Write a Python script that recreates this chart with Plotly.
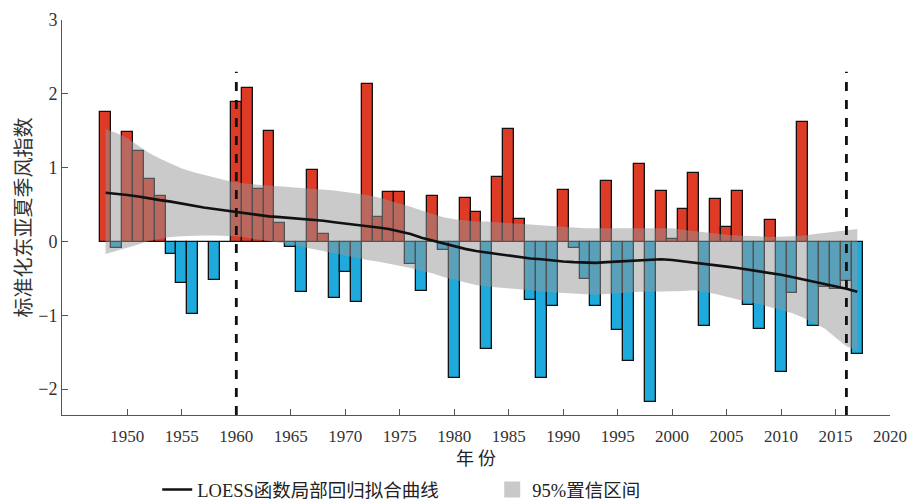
import plotly.graph_objects as go

years = list(range(1948, 2018))
index_values = [
    1.76, -0.09, 1.48, 1.22, 0.85, 0.62, -0.17, -0.56, -0.98, 0.00,
    -0.52, 0.00, 1.89, 2.08, 0.71, 1.49, 0.25, -0.08, -0.69, 0.97,
    0.10, -0.77, -0.41, -0.82, 2.13, 0.33, 0.67, 0.67, -0.31, -0.67,
    0.61, -0.11, -1.85, 0.59, 0.40, -1.46, 0.87, 1.52, 0.30, -0.79,
    -1.85, -0.88, 0.70, -0.09, -0.51, -0.88, 0.82, -1.20, -1.62, 1.05,
    -2.17, 0.68, 0.03, 0.44, 0.93, -1.14, 0.58, 0.19, 0.68, -0.86,
    -1.19, 0.29, -1.77, -0.70, 1.62, -1.14, -0.62, -0.65, -0.54, -1.52,
]
loess_values = [
    0.66, 0.65, 0.63, 0.61, 0.59, 0.56, 0.54, 0.51, 0.49, 0.46,
    0.44, 0.42, 0.40, 0.38, 0.36, 0.34, 0.33, 0.32, 0.31, 0.29,
    0.28, 0.26, 0.24, 0.23, 0.21, 0.19, 0.17, 0.14, 0.10, 0.05,
    0.01, -0.03, -0.07, -0.10, -0.13, -0.15, -0.17, -0.19, -0.21, -0.23,
    -0.24, -0.26, -0.27, -0.28, -0.29, -0.29, -0.28, -0.27, -0.26, -0.25,
    -0.24, -0.24, -0.25, -0.27, -0.28, -0.30, -0.32, -0.34, -0.36, -0.38,
    -0.41, -0.43, -0.45, -0.48, -0.51, -0.54, -0.57, -0.61, -0.64, -0.68,
]
ci_upper = [
    1.52, 1.47, 1.40, 1.30, 1.20, 1.12, 1.05, 0.99, 0.94, 0.90,
    0.86, 0.83, 0.80, 0.78, 0.77, 0.76, 0.75, 0.74, 0.73, 0.72,
    0.70, 0.69, 0.67, 0.65, 0.63, 0.60, 0.56, 0.52, 0.47, 0.42,
    0.37, 0.33, 0.30, 0.28, 0.27, 0.27, 0.26, 0.25, 0.24, 0.22,
    0.21, 0.20, 0.19, 0.18, 0.18, 0.18, 0.18, 0.18, 0.18, 0.18,
    0.18, 0.18, 0.18, 0.16, 0.14, 0.12, 0.10, 0.09, 0.08, 0.08,
    0.07, 0.06, 0.06, 0.07, 0.08, 0.10, 0.12, 0.14, 0.16, 0.17,
]
ci_lower = [
    -0.17, -0.13, -0.09, -0.04, 0.01, 0.04, 0.06, 0.07, 0.08, 0.08,
    0.08, 0.08, 0.07, 0.05, 0.03, 0.01, -0.02, -0.04, -0.07, -0.10,
    -0.13, -0.16, -0.20, -0.22, -0.25, -0.27, -0.30, -0.32, -0.36, -0.40,
    -0.43, -0.48, -0.52, -0.56, -0.59, -0.61, -0.62, -0.63, -0.65, -0.66,
    -0.68, -0.69, -0.70, -0.71, -0.72, -0.72, -0.71, -0.70, -0.68, -0.68,
    -0.68, -0.68, -0.68, -0.67, -0.66, -0.68, -0.71, -0.75, -0.79, -0.82,
    -0.85, -0.89, -0.93, -0.97, -1.03, -1.10, -1.18, -1.30, -1.42, -1.48,
]
breakpoints = [1960, 2016]
x_ticks = list(range(1950, 2021, 5))
y_ticks = [-2, -1, 0, 1, 2, 3]

RED = "#de3b27"
BLUE = "#1eaadd"
BAND = "rgba(150,150,150,0.5)"
SERIF = "Liberation Serif, Noto Sans CJK SC, serif"

fig = go.Figure()
fig.add_trace(go.Bar(
    x=years, y=index_values,
    marker=dict(color=[RED if v >= 0 else BLUE for v in index_values],
                line=dict(color="#111111", width=1.3)),
    width=1.0, showlegend=False, hoverinfo="x+y",
))
fig.add_trace(go.Scatter(
    x=years, y=ci_lower, mode="lines", line=dict(width=0),
    showlegend=False, hoverinfo="skip",
))
fig.add_trace(go.Scatter(
    x=years, y=ci_upper, mode="lines", line=dict(width=0),
    fill="tonexty", fillcolor=BAND, showlegend=False,
    name="95%置信区间",
))
fig.add_trace(go.Scatter(
    x=years, y=loess_values, mode="lines",
    line=dict(color="#111111", width=2.6),
    name="LOESS函数局部回归拟合曲线", legendrank=1,
))
# legend entry for the confidence band
fig.add_trace(go.Scatter(
    x=[None], y=[None], mode="markers",
    marker=dict(symbol="square", size=20, color="#c9c9c9"),
    name="95%置信区间", legendrank=2,
))

for b in breakpoints:
    fig.add_shape(type="line", xref="x", yref="y", x0=b, x1=b, y0=-2.35, y1=2.3,
                  line=dict(color="#111111", width=2.8, dash="dash"), layer="above")

fig.add_annotation(text="年 份", xref="paper", yref="paper", x=0.5, y=-0.106,
                   xanchor="center", yanchor="middle", showarrow=False,
                   font=dict(family="Noto Sans CJK SC", size=18, color="#222222"))

fig.update_layout(
    width=917, height=501,
    margin=dict(l=54, r=35, t=12, b=94, autoexpand=False),
    paper_bgcolor="white", plot_bgcolor="white",
    bargap=0,
    font=dict(family=SERIF, size=17, color="#333333"),
    legend=dict(orientation="h", x=0.115, xanchor="left",
                yref="container", y=0.038, yanchor="middle",
                entrywidth=290, entrywidthmode="pixels", traceorder="normal",
                font=dict(family=SERIF, size=18.5, color="#222222"),
                bgcolor="rgba(0,0,0,0)"),
    xaxis=dict(range=[1944, 2020], tickvals=x_ticks, ticks="inside", ticklen=6,
               tickcolor="#555555", showline=True, linecolor="#555555", linewidth=1,
               showgrid=False, zeroline=False, automargin=False,
               ticklabelstandoff=6,
               tickfont=dict(family=SERIF, size=17, color="#333333")),
    yaxis=dict(range=[-2.35, 3], tickvals=y_ticks,
               ticktext=["\u22122", "\u22121", "0", "1", "2", "3"],
               ticks="inside", ticklen=6,
               tickcolor="#555555", showline=True, linecolor="#555555", linewidth=1,
               showgrid=False, zeroline=False, automargin=False,
               title=dict(text="标准化东亚夏季风指数",
                          font=dict(family="Noto Sans CJK SC", size=20, color="#333333"),
                          standoff=10),
               tickfont=dict(family=SERIF, size=18, color="#333333")),
)

fig.write_html("out.html")
